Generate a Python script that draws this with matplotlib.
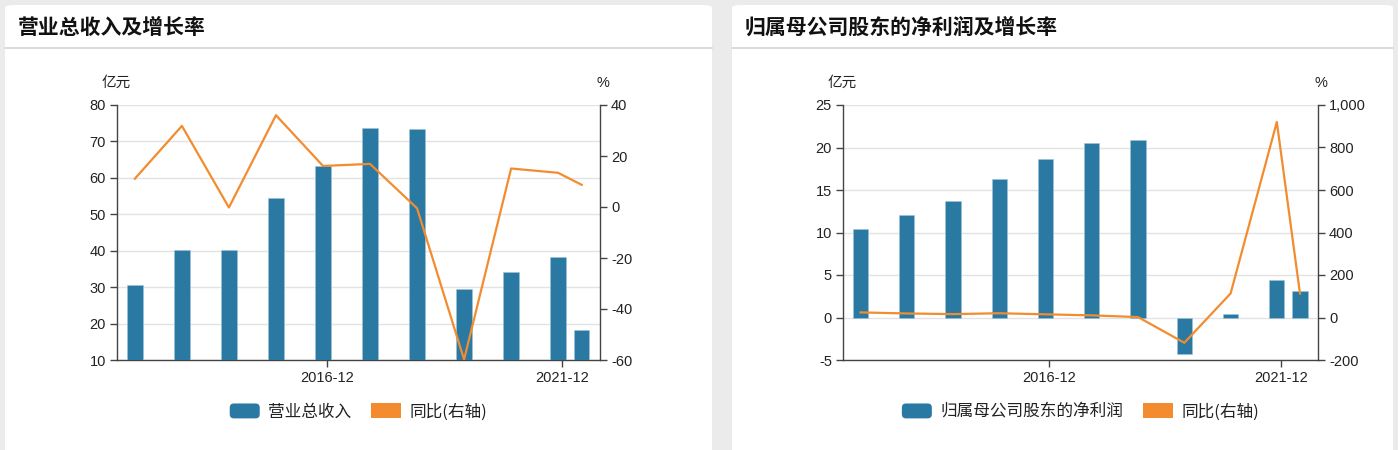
import matplotlib
matplotlib.use("Agg")
import matplotlib.pyplot as plt
from matplotlib.patches import FancyBboxPatch, Patch
from matplotlib.legend_handler import HandlerPatch
from matplotlib.lines import Line2D
from matplotlib.ticker import FuncFormatter

plt.rcParams["font.family"] = ["Liberation Sans", "Noto Sans CJK SC", "DejaVu Sans"]
plt.rcParams["axes.unicode_minus"] = False

W, H = 1398, 450

periods = ["2012-12", "2013-12", "2014-12", "2015-12", "2016-12", "2017-12",
           "2018-12", "2019-12", "2020-12", "2021-12", "2022-06"]
tick_periods = ["2016-12", "2021-12"]

revenue = [30.5, 40.2, 40.1, 54.5, 63.2, 73.8, 73.4, 29.5, 34.1, 38.4, 18.3]
revenue_yoy = [11.1, 31.8, -0.2, 36.0, 16.1, 16.9, -0.5, -59.8, 15.1, 13.4, 8.7]

profit = [10.45, 12.1, 13.7, 16.3, 18.6, 20.5, 20.9, -4.35, 0.45, 4.45, 3.15]
profit_yoy = [24, 19, 16, 20, 15, 10, 2, -119, 113, 920, 113]

BLUE = "#2a79a3"
ORANGE = "#f28c2f"
AXIS = "#444444"
GRID = "#e3e3e3"


def pos(p):
    y, m = p.split("-")
    return int(y) + (int(m) - 1) / 12


def box(x0, y0, x1, y1):
    return [x0 / W, 1 - y1 / H, (x1 - x0) / W, (y1 - y0) / H]


def rounded_handle(legend, orig_handle, xdescent, ydescent, width, height, fontsize):
    return FancyBboxPatch((-xdescent, -ydescent), width, height,
                          boxstyle="round,pad=0,rounding_size=3")


def card(fig, x0, x1, title):
    patch = FancyBboxPatch((x0 / W, -0.05), (x1 - x0) / W, 1 - 5 / H + 0.05,
                           boxstyle="round,pad=0,rounding_size=0.006",
                           transform=fig.transFigure, facecolor="white",
                           edgecolor="none", zorder=-2)
    fig.patches.append(patch)
    fig.add_artist(Line2D([x0 / W, x1 / W], [1 - 48 / H, 1 - 48 / H],
                          transform=fig.transFigure, color="#d6d6d6", lw=1.2,
                          zorder=-1))
    fig.text((x0 + 13) / W, 1 - 27 / H, title, fontsize=15, fontweight="bold",
             family=["Noto Sans CJK SC"], va="center", ha="left", color="#111111")


def panel(fig, axbox, bars, growth, bar_name, ylim, yticks, y2lim, y2ticks, y2fmt):
    ax = fig.add_axes(box(*axbox))
    xs = [pos(p) for p in periods]
    ax.bar(xs, bars, width=0.33, color=BLUE, edgecolor="#9cc3d8", linewidth=0.4, zorder=3)
    ax.set_ylim(*ylim)
    ax.set_yticks(yticks)
    ax.set_xlim(xs[0] - 0.38, xs[-2] + 0.89)
    ax.set_xticks([pos(p) + 1 / 12 for p in tick_periods])
    ax.set_xticklabels(tick_periods)
    ax.yaxis.grid(True, color=GRID, lw=1, zorder=0)
    ax.set_axisbelow(True)
    ax.set_facecolor("none")
    for s in ["top", "right"]:
        ax.spines[s].set_visible(False)
    for s in ["left", "bottom"]:
        ax.spines[s].set_color(AXIS)
        ax.spines[s].set_linewidth(1)
    ax.tick_params(axis="both", colors=AXIS, labelcolor="#222222", labelsize=10.5,
                   length=5, width=1, pad=3)

    ax2 = ax.twinx()
    ax2.plot(xs, growth, color=ORANGE, lw=1.6, zorder=4)
    ax2.set_ylim(*y2lim)
    ax2.set_yticks(y2ticks)
    ax2.yaxis.set_major_formatter(FuncFormatter(y2fmt))
    for s in ["top", "left", "bottom"]:
        ax2.spines[s].set_visible(False)
    ax2.spines["right"].set_color(AXIS)
    ax2.spines["right"].set_linewidth(1)
    ax2.tick_params(axis="y", colors=AXIS, labelcolor="#222222", labelsize=10.5,
                    length=5, width=1, pad=3)

    x0, y0, x1, y1 = axbox
    fig.text((x0 - 1) / W, 1 - 83 / H, "亿元", fontsize=10.5, ha="center", va="center",
             family=["Noto Sans CJK SC"], color="#222222")
    fig.text((x1 + 3) / W, 1 - 83 / H, "%", fontsize=10.5, ha="center", va="center",
             color="#222222")

    bar_handle = Patch(facecolor=BLUE, edgecolor="none")
    line_handle = Patch(facecolor=ORANGE, edgecolor="none")
    fig.legend([bar_handle, line_handle], [bar_name, "同比(右轴)"], ncol=2, frameon=False,
               loc="center", bbox_to_anchor=((x0 + x1) / 2 / W, 1 - 412 / H),
               prop={"family": ["Noto Sans CJK SC"], "size": 12},
               handlelength=1.8, handleheight=1.0, handletextpad=0.5,
               columnspacing=1.2, labelcolor="#222222",
               handler_map={bar_handle: HandlerPatch(patch_func=rounded_handle)})
    return ax, ax2


fig = plt.figure(figsize=(W / 100, H / 100), dpi=100)
fig.patch.set_facecolor("#ebebeb")

card(fig, 5, 712, "营业总收入及增长率")
card(fig, 732, 1393, "归属母公司股东的净利润及增长率")

panel(fig, (117, 105, 600, 360), revenue, revenue_yoy, "营业总收入",
      (10, 80), range(10, 81, 10), (-60, 40), range(-60, 41, 20),
      lambda v, _: f"{v:.0f}")
panel(fig, (843, 105, 1318, 360), profit, profit_yoy, "归属母公司股东的净利润",
      (-5, 25), range(-5, 26, 5), (-200, 1000), range(-200, 1001, 200),
      lambda v, _: f"{v:,.0f}")

fig.savefig("out.png", dpi=100, facecolor=fig.get_facecolor())
